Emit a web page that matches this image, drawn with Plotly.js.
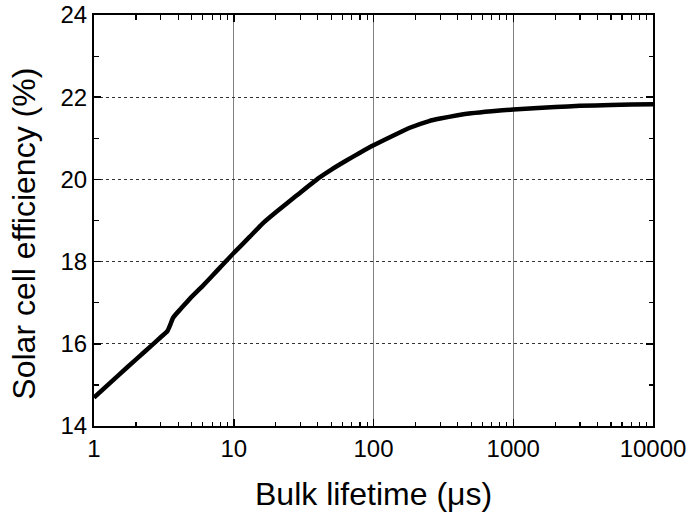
<!DOCTYPE html>
<html>
<head>
<meta charset="utf-8">
<script src="https://cdn.plot.ly/plotly-3.0.1.min.js"></script>
<style>
  html, body { margin: 0; padding: 0; background: #fff; }
  #chart { width: 691px; height: 516px; }
</style>
</head>
<body>
<div id="chart"></div>
<script>
// Bulk lifetime (µs) vs. simulated solar cell efficiency (%)
const lifetime = [1, 1.5, 2, 2.66, 3, 3.35, 3.5, 3.69, 4.2, 4.86, 6, 7, 8, 10,
  13, 16, 20, 28, 40, 50, 64, 80, 100, 145, 180, 250, 300, 400, 500, 700,
  1000, 1500, 2000, 3000, 5000, 7000, 10000];
const efficiency = [14.69, 15.24, 15.62, 16.0, 16.16, 16.31, 16.45, 16.64, 16.86, 17.1, 17.41, 17.65, 17.86, 18.21,
  18.6, 18.92, 19.2, 19.6, 20.02, 20.24, 20.46, 20.65, 20.83, 21.1, 21.25, 21.42, 21.48, 21.56, 21.61, 21.66,
  21.7, 21.74, 21.76, 21.79, 21.81, 21.82, 21.83];

const xTickVals = [1, 10, 100, 1000, 10000];
const xTickText = ['1', '10', '100', '1000', '10000'];
const yTickVals = [14, 16, 18, 20, 22, 24];
const yTickText = ['14', '16', '18', '20', '22', '24'];
const yMinorVals = [15, 17, 19, 21, 23];

// log-decade minor ticks 2..9 in each decade
const xMinorVals = [];
for (let d = 1; d < 10000; d *= 10) {
  for (let m = 2; m <= 9; m++) xMinorVals.push(m * d);
}

const FAMILY = 'Liberation Sans, Arial, sans-serif';

const curve = {
  x: lifetime,
  y: efficiency,
  type: 'scatter',
  mode: 'lines',
  line: { color: '#000', width: 4.5, shape: 'spline', smoothing: 0.5 },
  hoverinfo: 'skip'
};

// shared frame style: inward ticks mirrored on all four sides
const frame = {
  ticks: 'inside',
  ticklen: 7,
  tickwidth: 1.5,
  tickcolor: '#000',
  showline: true,
  linewidth: 2,
  linecolor: '#000',
  mirror: 'allticks',
  showgrid: true,
  gridwidth: 1,
  zeroline: false,
  tickfont: { family: FAMILY, size: 24, color: '#000' }
};
const minorStyle = { ticks: 'inside', ticklen: 4.5, tickwidth: 1.2, tickcolor: '#000', showgrid: false };

const layout = {
  width: 691,
  height: 516,
  margin: { l: 94, r: 38, t: 15, b: 90 },
  paper_bgcolor: '#fff',
  plot_bgcolor: '#fff',
  showlegend: false,
  font: { family: FAMILY, color: '#000' },
  xaxis: Object.assign({}, frame, {
    type: 'log',
    range: [0, 4],
    tickmode: 'array',
    tickvals: xTickVals,
    ticktext: xTickText,
    gridcolor: '#808080',
    minor: Object.assign({ tickmode: 'array', tickvals: xMinorVals }, minorStyle)
  }),
  yaxis: Object.assign({}, frame, {
    range: [14, 24],
    tickmode: 'array',
    tickvals: yTickVals,
    ticktext: yTickText,
    gridcolor: '#333',
    griddash: '3px,3px',
    minor: Object.assign({ tickmode: 'array', tickvals: yMinorVals }, minorStyle)
  }),
  annotations: [
    {
      text: 'Bulk lifetime (μs)',
      xref: 'paper', yref: 'paper', x: 0.5, y: 0,
      xanchor: 'center', yanchor: 'middle', yshift: -68,
      showarrow: false,
      font: { family: FAMILY, size: 32, color: '#000' }
    },
    {
      text: 'Solar cell efficiency (%)',
      xref: 'paper', yref: 'paper', x: 0, y: 0.468,
      xanchor: 'center', yanchor: 'middle', xshift: -70,
      textangle: -90,
      showarrow: false,
      font: { family: FAMILY, size: 32, color: '#000' }
    }
  ]
};

Plotly.newPlot('chart', [curve], layout, { displayModeBar: false, staticPlot: true });
</script>
</body>
</html>
